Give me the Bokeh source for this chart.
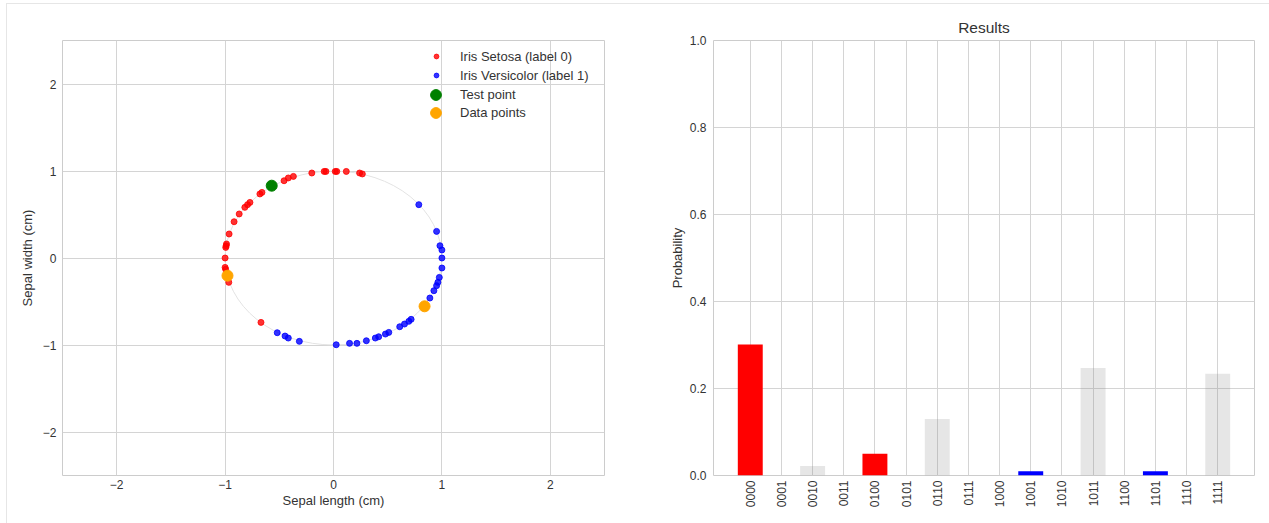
from bokeh.plotting import figure
from bokeh.layouts import row
from bokeh.models import FixedTicker, Range1d, Legend, LegendItem
from bokeh.embed import file_html
from bokeh.resources import INLINE

# ---- Normalised Iris samples (projected on the unit circle) ----
setosa_x = [-0.200, -0.086, -0.070, 0.016, 0.030, 0.118, 0.241, 0.266, -0.370, -0.417,
            -0.456, -0.660, -0.679, -0.771, -0.793, -0.818, -0.870, -0.917, -0.963, -0.987,
            -0.994, -0.990, -1.000, -1.000, -0.995, -0.966, -0.669]
setosa_y = [0.977, 0.995, 0.995, 0.995, 0.995, 0.995, 0.977, 0.966, 0.938, 0.920,
            0.888, 0.754, 0.736, 0.639, 0.613, 0.582, 0.506, 0.417, 0.276, 0.161,
            0.122, 0.140, 0.000, -0.108, -0.130, -0.280, -0.740]

versicolor_x = [0.787, 0.951, 0.982, 1.000, 1.000, 1.000, 0.976, 0.963, 0.951, 0.926,
                0.889, 0.716, 0.695, 0.655, 0.611, 0.510, 0.479, 0.417, 0.386, 0.303,
                0.216, 0.148, 0.025, -0.315, -0.417, -0.447, -0.519]
versicolor_y = [0.613, 0.306, 0.141, 0.092, 0.000, -0.115, -0.223, -0.280, -0.318, -0.376,
                -0.460, -0.705, -0.728, -0.759, -0.790, -0.855, -0.874, -0.905, -0.920, -0.951,
                -0.981, -0.981, -0.997, -0.958, -0.920, -0.897, -0.859]

test_x = [-0.570]
test_y = [0.831]

data_x = [-0.978, 0.840]
data_y = [-0.203, -0.555]

# ---- Measurement results ----
states = ["0000", "0001", "0010", "0011", "0100", "0101", "0110", "0111",
          "1000", "1001", "1010", "1011", "1100", "1101", "1110", "1111"]
probabilities = [0.301, 0.0, 0.022, 0.0, 0.050, 0.0, 0.130, 0.0,
                 0.0, 0.010, 0.0, 0.247, 0.0, 0.010, 0.0, 0.234]
setosa_states = ["0000", "0100"]
versicolor_states = ["1001", "1101"]

FONT = "Liberation Sans"
TEXT = "#333333"
GRID = "#d4d4d4"


def style_axes(p):
    p.background_fill_color = "white"
    p.border_fill_color = "white"
    p.outline_line_color = "#cccccc"
    p.outline_line_width = 1
    for ax in (p.xaxis, p.yaxis):
        ax.axis_line_color = None
        ax.major_tick_line_color = None
        ax.minor_tick_line_color = None
        ax.major_tick_out = 0
        ax.major_tick_in = 0
        ax.major_label_text_font = FONT
        ax.major_label_text_font_size = "12px"
        ax.major_label_text_color = TEXT
        ax.axis_label_text_font = FONT
        ax.axis_label_text_font_size = "13px"
        ax.axis_label_text_font_style = "normal"
        ax.axis_label_text_color = TEXT
    p.grid.grid_line_color = GRID
    p.grid.grid_line_width = 1


# ---------------- Left: scatter on the unit circle ----------------
p1 = figure(frame_width=542, frame_height=435,
            min_border_left=55, min_border_right=36, min_border_top=36, min_border_bottom=48,
            x_range=Range1d(-2.5, 2.5), y_range=Range1d(-2.5, 2.5),
            output_backend="svg", toolbar_location=None)
style_axes(p1)
ticks = [-2, -1, 0, 1, 2]
labels = {t: (str(t) if t >= 0 else "\u2212" + str(-t)) for t in ticks}
p1.xaxis.ticker = FixedTicker(ticks=ticks)
p1.yaxis.ticker = FixedTicker(ticks=ticks)
p1.xaxis.major_label_overrides = labels
p1.yaxis.major_label_overrides = labels
p1.xaxis.axis_label = "Sepal length (cm)"
p1.yaxis.axis_label = "Sepal width (cm)"
p1.xaxis.major_label_standoff = 4
p1.yaxis.major_label_standoff = 6
p1.xaxis.axis_label_standoff = 1
p1.yaxis.axis_label_standoff = 5

p1.ellipse(x=[0], y=[0], width=[2], height=[2], fill_color=None,
           line_color="#e3e3e3", line_width=1)
r_set = p1.scatter(setosa_x, setosa_y, size=6, color="red", alpha=0.8)
r_ver = p1.scatter(versicolor_x, versicolor_y, size=6, color="blue", alpha=0.8)
r_test = p1.scatter(test_x, test_y, size=11, color="green", alpha=1.0)
r_data = p1.scatter(data_x, data_y, size=11, color="orange", alpha=1.0)


def make_legend(items, glyph, standoff, loc):
    return Legend(items=items, location=loc, orientation="vertical",
                  glyph_width=glyph, glyph_height=glyph, label_height=16,
                  label_standoff=standoff, spacing=3, padding=0, margin=0,
                  border_line_color=None, background_fill_alpha=0,
                  label_text_font=FONT, label_text_font_size="13px",
                  label_text_color=TEXT)


# small markers for the two classes, larger markers for the highlighted points
p1.add_layout(make_legend([LegendItem(label="Iris Setosa (label 0)", renderers=[r_set]),
                           LegendItem(label="Iris Versicolor (label 1)", renderers=[r_ver])],
                          12, 18, (368, 392)))
p1.add_layout(make_legend([LegendItem(label="Test point", renderers=[r_test])],
                          27, 11, (360, 367)))
p1.add_layout(make_legend([LegendItem(label="Data points", renderers=[r_data])],
                          27, 11, (360, 349)))

# ---------------- Right: measurement histogram ----------------
p2 = figure(frame_width=541, frame_height=435,
            min_border_left=73, min_border_right=15, min_border_top=36, min_border_bottom=48,
            x_range=Range1d(-1.18, 16.18), y_range=Range1d(0, 1),
            title="Results", output_backend="svg", toolbar_location=None)
style_axes(p2)
p2.title.text_font = FONT
p2.title.text_font_size = "15.5px"
p2.title.text_font_style = "normal"
p2.title.text_color = TEXT
p2.title.align = "center"

positions = list(range(len(states)))
p2.xaxis.ticker = FixedTicker(ticks=positions)
p2.xaxis.major_label_overrides = {i: s for i, s in enumerate(states)}
p2.xaxis.major_label_orientation = 3.14159265 / 2
p2.xaxis.major_label_standoff = 5
p2.yaxis.ticker = FixedTicker(ticks=[0, 0.2, 0.4, 0.6, 0.8, 1.0])
p2.yaxis.major_label_overrides = {0: "0.0", 0.2: "0.2", 0.4: "0.4", 0.6: "0.6",
                                  0.8: "0.8", 1: "1.0"}
p2.yaxis.major_label_standoff = 7
p2.yaxis.axis_label = "Probability"
p2.yaxis.axis_label_standoff = 2

colors = []
alphas = []
for s in states:
    if s in setosa_states:
        colors.append("red")
        alphas.append(1.0)
    elif s in versicolor_states:
        colors.append("blue")
        alphas.append(1.0)
    else:
        colors.append("gray")
        alphas.append(0.2)

p2.vbar(x=positions, top=probabilities, width=0.8, fill_color=colors,
        fill_alpha=alphas, line_color=None)

layout = row(p1, p2, margin=(3, 0, 0, 6),
             styles={"border-top": "1px solid #e6e6e6", "border-left": "1px solid #e6e6e6"})

open("out.html", "w").write(file_html(layout, INLINE))
